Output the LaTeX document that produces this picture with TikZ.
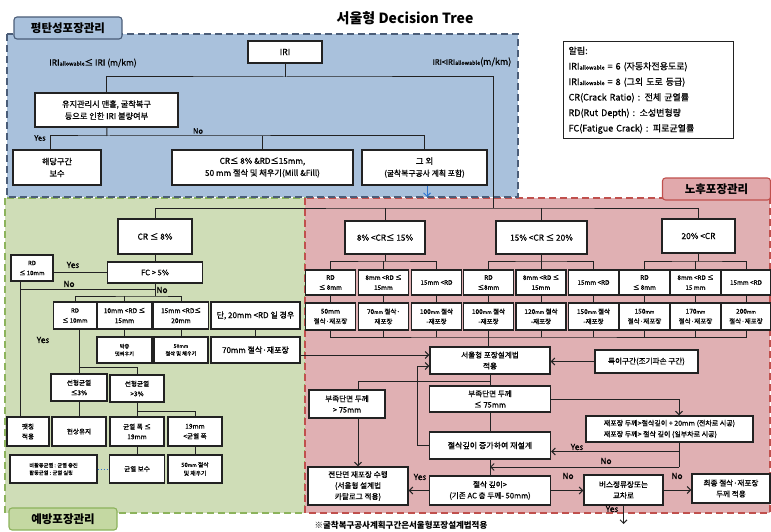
\documentclass[tikz,border=0pt]{standalone}
\usepackage{fontspec}
\setmainfont{Noto Sans CJK KR}[UprightFeatures={FakeBold=0.6}]
\usetikzlibrary{arrows.meta}
\definecolor{flatfill}{HTML}{A9C1DC}
\definecolor{flatedge}{HTML}{4B5D78}
\definecolor{prevfill}{HTML}{CFDDB7}
\definecolor{prevtab}{HTML}{C4D8A2}
\definecolor{prevedge}{HTML}{8CB35C}
\definecolor{oldfill}{HTML}{E0B0B3}
\definecolor{oldtab}{HTML}{E1A9AC}
\definecolor{oldedge}{HTML}{C0504D}
\definecolor{ink}{HTML}{222222}
\definecolor{dotblue}{HTML}{2E75D0}
\newcommand\mmsm{{\fontsize{4.8}{5}\selectfont mm}}
\newcommand\allowsub{{\fontsize{5.5}{5}\selectfont allowable}}

\begin{document}
\begin{tikzpicture}[x=1pt,y=-1pt,>={Straight Barb[length=3.5pt,width=7pt]},
  blk/.style={draw=ink,line width=1.2pt,fill=white,align=center,inner sep=1pt,font=\fontsize{7.6}{11}\selectfont},
  sblk/.style={blk,font=\fontsize{6.6}{10}\selectfont},
  tblk/.style={blk,font=\fontsize{5.2}{7.5}\selectfont},
  rdblk/.style={blk,font=\fontsize{6.3}{10}\selectfont,minimum width=50pt,minimum height=25pt},
  tkblk/.style={blk,font=\fontsize{6.5}{10}\selectfont,minimum width=50pt,minimum height=27pt},
  tabblk/.style={rounded corners=3pt,line width=1.1pt,minimum width=108pt,minimum height=22pt,font=\bfseries\fontsize{11.5}{11.5}\selectfont},
  zone/.style={line width=1.1pt,dash pattern=on 7pt off 4pt},
  link/.style={draw=ink,line width=1pt},
  lbl/.style={inner sep=1pt,font=\fontsize{8.3}{9}\selectfont}]
\useasboundingbox (0,0) rectangle (771,532);
\draw[zone,draw=prevedge,fill=prevfill] (5,198) rectangle (305,513);
\draw[zone,draw=oldedge,fill=oldfill] (305,198) rectangle (770,513);
\draw[zone,draw=flatedge,fill=flatfill] (7,34) rectangle (518,197);
\node[tabblk,draw=flatedge,fill=flatfill] (tab_flat) at (68,28) {평탄성포장관리};
\node[tabblk,draw=prevedge,fill=prevtab] (tab_prev) at (63,519) {예방포장관리};
\node[tabblk,draw=oldedge,fill=oldtab] (tab_old) at (716.5,189) {노후포장관리};
\node[font=\bfseries\fontsize{14}{14}\selectfont] (title) at (405,18) {서울형 Decision Tree};

\node[blk,font=\fontsize{8.5}{10}\selectfont,minimum width=74pt,minimum height=22pt] (iri) at (285,52) {IRI};
\node[blk,font=\fontsize{8.2}{12}\selectfont,minimum width=143pt,minimum height=34pt] (chk) at (106.5,110) {유지관리시 맨홀, 굴착복구\\등으로 인한 IRI 불량여부};
\node[blk,font=\fontsize{8.2}{12}\selectfont,minimum width=88pt,minimum height=35pt] (fix) at (57,167.5) {해당구간\\보수};
\node[blk,font=\fontsize{8.2}{12}\selectfont,minimum width=181pt,minimum height=35pt] (mill) at (262.5,167.5) {CR≤ 8\% \&RD≤15mm,\\50 mm 절삭 및 채우기(Mill \&Fill)};
\node[blk,font=\fontsize{7.8}{12}\selectfont,minimum width=125pt,minimum height=35pt] (etc) at (424.5,167.5) {{\fontsize{8.4}{12}\selectfont 그 외}\\(굴착복구공사 계획 포함)};
\node[blk,anchor=north west,align=left,text width=160pt,inner sep=5pt,minimum height=96pt,font=\fontsize{9}{15.5}\selectfont] (legend) at (563,41) {알림:\\IRI\allowsub{} = 6 (자동차전용도로)\\IRI\allowsub{} = 8 (그외 도로 등급)\\CR(Crack Ratio) : 전체 균열률\\RD(Rut Depth) : 소성변형량\\FC(Fatigue Crack) : 피로균열률};

\node[blk,font=\fontsize{8.3}{10}\selectfont,minimum width=74pt,minimum height=35pt] (cr8) at (155,236.5) {CR ≤ 8\%};
\node[blk,minimum width=95pt,minimum height=21pt] (fc5) at (155,272.5) {FC > 5\%};
\node[sblk,font=\fontsize{6}{10}\selectfont,minimum width=42pt,minimum height=26pt] (rd_a) at (32,268) {RD\\≤ 10mm};
\node[sblk,font=\fontsize{6}{10}\selectfont,minimum width=43pt,minimum height=27pt] (rd_b) at (75,315.5) {RD\\≤ 10mm};
\node[sblk,minimum width=55pt,minimum height=27pt] (rd_c) at (124.5,315.5) {10mm <RD ≤\\15mm};
\node[sblk,minimum width=55pt,minimum height=27pt] (rd_d) at (181,315.5) {15mm <RD≤\\20mm};
\node[blk,font=\fontsize{8}{10}\selectfont,minimum width=89pt,minimum height=27pt] (rd_e) at (255.5,315.5) {단, 20mm <RD 일 경우};
\node[tblk,minimum width=55pt,minimum height=26pt] (thin) at (124.5,350) {박층\\덧씌우기};
\node[tblk,minimum width=54pt,minimum height=26pt] (mf_a) at (181,350) {50\mmsm\\절삭 및 채우기};
\node[blk,font=\fontsize{8}{10}\selectfont,minimum width=89pt,minimum height=26pt] (mill_b) at (255.5,350) {70mm 절삭·재포장};
\node[sblk,minimum width=56pt,minimum height=27pt] (lin_a) at (79,387.5) {선형균열\\≤3\%};
\node[sblk,minimum width=54pt,minimum height=27pt] (lin_b) at (137,388.5) {선형균열\\>3\%};
\node[sblk,minimum width=42pt,minimum height=29pt] (patch) at (28,431.5) {팻칭\\적용};
\node[sblk,minimum width=54pt,minimum height=29pt] (keep) at (79,431.5) {현상유지};
\node[sblk,minimum width=54pt,minimum height=29pt] (wid_a) at (137,431.5) {균열 폭 ≤\\19mm};
\node[sblk,minimum width=54pt,minimum height=29pt] (wid_b) at (195,431.5) {19mm\\<균열 폭};
\node[tblk,align=left,minimum width=87pt,minimum height=28pt] (crk) at (53.5,469) {비활동균열 : 균열 충진\\활동균열 : 균열 실링};
\node[sblk,minimum width=55pt,minimum height=28pt] (seal) at (137,469) {균열 보수};
\node[tblk,font=\fontsize{5.8}{8.5}\selectfont,minimum width=54pt,minimum height=28pt] (mf_b) at (195,469) {50\mmsm{} 절삭\\및 채우기};

\node[blk,font=\fontsize{8.3}{10}\selectfont,minimum width=80pt,minimum height=33pt] (cr_a) at (385,237.5) {8\% <CR≤ 15\%};
\node[blk,font=\fontsize{8.3}{10}\selectfont,minimum width=91pt,minimum height=33pt] (cr_b) at (541.5,237.5) {15\% <CR ≤ 20\%};
\node[blk,font=\fontsize{8.3}{10}\selectfont,minimum width=73pt,minimum height=34pt] (cr_c) at (698.5,236) {20\% <CR};
\node[rdblk] (rd_1) at (330.5,282.5) {RD\\≤ 8mm};
\node[rdblk] (rd_2) at (383.5,282.5) {8mm <RD ≤\\15mm};
\node[rdblk] (rd_3) at (436.5,282.5) {15mm <RD};
\node[rdblk] (rd_4) at (488.5,282.5) {RD\\≤8mm};
\node[rdblk] (rd_5) at (541,282.5) {8mm <RD ≤\\15mm};
\node[rdblk] (rd_6) at (593.5,282.5) {15mm <RD};
\node[rdblk] (rd_7) at (644.5,282.5) {RD\\≤ 8mm};
\node[rdblk] (rd_8) at (695.5,282.5) {8mm <RD ≤\\15 mm};
\node[rdblk] (rd_9) at (746,282.5) {15mm <RD};
\node[tkblk] (t_1) at (330.5,316.5) {50mm\\절삭·재포장};
\node[tkblk] (t_2) at (383.5,316.5) {70\mmsm{} 절삭·\\재포장};
\node[tkblk] (t_3) at (436.5,316.5) {100\mmsm{} 절삭\\-재포장};
\node[tkblk] (t_4) at (488.5,316.5) {100\mmsm{} 절삭\\-재포장};
\node[tkblk] (t_5) at (541,316.5) {120\mmsm{} 절삭\\-재포장};
\node[tkblk] (t_6) at (593.5,316.5) {150\mmsm{} 절삭\\-재포장};
\node[tkblk] (t_7) at (644.5,316.5) {150\mmsm\\절삭·재포장};
\node[tkblk] (t_8) at (695.5,316.5) {170\mmsm\\절삭·재포장};
\node[tkblk] (t_9) at (746,316.5) {200\mmsm\\절삭·재포장};

\node[blk,minimum width=120pt,minimum height=27pt] (seoul) at (490,360.5) {서울형 포장설계법\\적용};
\node[blk,minimum width=103pt,minimum height=23pt] (special) at (646.5,361.5) {특이구간(조기파손 구간)};
\node[blk,minimum width=76pt,minimum height=28pt] (thick75) at (347,404) {부족단면 두께\\> 75mm};
\node[blk,minimum width=121pt,minimum height=26pt] (thin75) at (490,399) {부족단면 두께\\≤ 75mm};
\node[blk,align=left,font=\fontsize{7}{11}\selectfont,minimum width=167pt,minimum height=26pt] (lane) at (669.5,429) {재포장 두께>절삭깊이 + 20mm (전차로 시공)\\재포장 두께> 절삭 깊이 (일부차로 시공)};
\node[blk,font=\fontsize{8}{10}\selectfont,minimum width=121pt,minimum height=27pt] (redesign) at (490,445.5) {절삭깊이 증가하여 재설계};
\node[blk,minimum width=121pt,minimum height=29pt] (depth) at (490,490.5) {절삭 깊이>\\(기존 AC 층 두께- 50mm)};
\node[blk,minimum width=100pt,minimum height=38pt] (full) at (358,486) {전단면 재포장 수행\\(서울형 설계법\\카탈로그 적용)};
\node[blk,minimum width=79pt,minimum height=30pt] (bus) at (623.5,490) {버스정류장또는\\교차로};
\node[blk,minimum width=78pt,minimum height=29pt] (final) at (731,488.5) {최종 절삭·재포장\\두께 적용};

\coordinate (j_iri) at (285,77);
\coordinate (j_cr) at (493,208);
\coordinate (j_chk) at (107,136);
\coordinate (j_fix) at (50,136);
\coordinate (j_blue) at (427,197);
\coordinate (j_no) at (20,289);
\coordinate (j_fc) at (155,296);
\coordinate (j_rd) at (79,367);
\coordinate (j_lin) at (137,411);
\coordinate (bar_a) at (385,261);
\coordinate (bar_b) at (541.5,261);
\coordinate (bar_c) at (698.5,261);
\coordinate (bar_t) at (490,337);
\coordinate (j_seoul) at (490,381);
\coordinate (j_thick) at (358,381);
\coordinate (j_loop) at (417,366);
\coordinate (j_lane) at (679,467);
\coordinate (j_out) at (623.5,524);

\draw[link] (iri) -- (j_iri);
\draw[link] (chk.north) |- (j_iri) -| (j_cr);
\draw[link] (chk) -- (j_chk);
\draw[link] (fix.north -| j_fix) |- (j_chk) -| (etc.north);
\draw[link] (mill.north) -- (mill.north |- j_chk);
\draw[->,draw=dotblue,line width=0.9pt] (etc.south -| j_blue) -- (j_blue);

\draw[link] (cr8.north) |- (j_cr) -| (cr_c.north);
\draw[link] (cr_a.north) -- (cr_a.north |- j_cr);
\draw[link] (cr_b.north) -- (cr_b.north |- j_cr);
\draw[link] (cr8) -- (fc5);
\draw[link] (fc5.west) -- (fc5.west -| rd_a.east);
\draw[link] (rd_a.south -| j_no) -- (patch.north -| j_no);
\draw[link] (j_no) -- (j_no -| fc5.south);
\draw[link] (fc5) -- (j_fc);
\draw[link] (rd_b.north) |- (j_fc) -| (rd_d.north);
\draw[link] (rd_c) -- (rd_c |- j_fc);
\draw[link] (rd_b.south -| j_rd) -- (j_rd) -| (lin_b.north);
\draw[link] (j_rd) -- (lin_a);
\draw[link] (lin_a) -- (keep);
\draw[link] (lin_b) -- (j_lin) -| (wid_b.north);
\draw[link] (j_lin) -- (wid_a);
\draw[link] (rd_c) -- (thin);
\draw[link] (rd_d) -- (mf_a);
\draw[link] (rd_e) -- (mill_b);
\draw[link] (wid_a) -- (seal);
\draw[link] (wid_b) -- (mf_b);
\draw[dotted,draw=dotblue,line width=1pt] (crk) -- (seal);
\draw[link,->] ([yshift=-5pt]mill_b.east) -- ([yshift=-5pt]mill_b.east -| seoul.west);

\draw[link] (cr_a) -- (bar_a) (cr_b) -- (bar_b) (cr_c) -- (bar_c);
\draw[link] (rd_1.north) |- (bar_a) -| (rd_3.north) (rd_2.north) -- (rd_2.north |- bar_a);
\draw[link] (rd_4.north) |- (bar_b) -| (rd_6.north) (rd_5.north) -- (rd_5.north |- bar_b);
\draw[link] (rd_7.north) |- (bar_c) -| (rd_9.north) (rd_8.north) -- (rd_8.north |- bar_c);
\draw[link] (rd_1) -- (t_1) (rd_2) -- (t_2) (rd_3) -- (t_3) (rd_4) -- (t_4) (rd_5) -- (t_5)
  (rd_6) -- (t_6) (rd_7) -- (t_7) (rd_8) -- (t_8) (rd_9) -- (t_9);
\draw[link] (t_1.south) |- (bar_t) -| (t_9.south);
\draw[link] (t_2.south) -- (t_2.south |- bar_t) (t_3.south) -- (t_3.south |- bar_t)
  (t_5.south) -- (t_5.south |- bar_t) (t_6.south) -- (t_6.south |- bar_t)
  (t_7.south) -- (t_7.south |- bar_t) (t_8.south) -- (t_8.south |- bar_t);
\draw[link] (t_4.south) -- (t_4.south |- seoul.north);

\draw[link,->] (special) -- (special -| seoul.east);
\draw[link] (seoul) -- (thin75);
\draw[link] (j_seoul) -- (j_thick) -- (thick75.north -| j_thick);
\draw[link,->] (thick75.south -| j_thick) -- (full);
\draw[link,->] (thin75.east) -| (lane.north -| j_lane);
\draw[link] (lane.south -| j_lane) -- (j_lane);
\draw[link,->] ([yshift=-6pt]redesign.east -| j_lane) -- ([yshift=-6pt]redesign.east);
\draw[link,->] (j_lane) -- (j_lane -| redesign.south);
\draw[link] (thin75) -- (redesign);
\draw[link] (redesign) -- (depth);
\draw[link,->] (redesign.west) -| (j_loop) -- (j_loop -| seoul.west);
\draw[link,->] (depth.west) -- (depth.west -| full.east);
\draw[link,->] (depth.east) -- (depth.east -| bus.west);
\draw[link,->] (bus.east) -- (bus.east -| final.west);
\draw[link,->] (bus) -- (j_out);

\node[lbl,font=\fontsize{8.5}{9}\selectfont] (l_ok) at (93,63) {IRI\allowsub{}≤ IRI (m/km)};
\node[lbl,font=\fontsize{7.5}{9}\selectfont] (l_bad) at (472,62) {IRI<IRI\allowsub{}{\fontsize{9}{9}\selectfont(m/km)}};
\node[lbl,font=\fontsize{7.5}{8}\selectfont] (y_1) at (40,138) {Yes};
\node[lbl,font=\fontsize{7.5}{8}\selectfont] (n_1) at (198,131) {No};
\node[lbl] (y_2) at (73,265) {Yes};
\node[lbl] (n_2) at (69,284) {No};
\node[lbl] (n_3) at (162,290) {No};
\node[lbl] (y_3) at (43,340) {Yes};
\node[lbl] (y_4) at (577,447) {Yes};
\node[lbl] (n_4) at (606,461) {No};
\node[lbl] (y_5) at (420,477) {Yes};
\node[lbl] (n_5) at (568,476) {No};
\node[lbl] (n_6) at (677,476) {No};
\node[lbl] (y_6) at (612,509) {Yes};
\node[font=\bfseries\fontsize{8.5}{9}\selectfont] (foot) at (401,525) {※굴착복구공사계획구간은서울형포장설계법적용};
\end{tikzpicture}
\end{document}
